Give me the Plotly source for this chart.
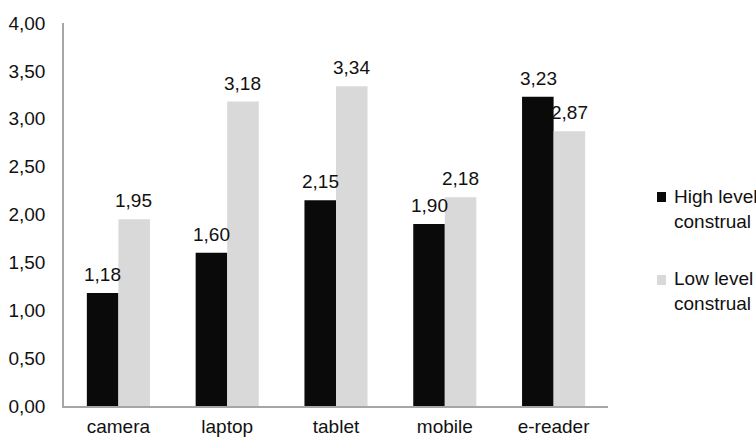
import plotly.graph_objects as go

categories = ["camera", "laptop", "tablet", "mobile", "e-reader"]
high_level = [1.18, 1.60, 2.15, 1.90, 3.23]
low_level = [1.95, 3.18, 3.34, 2.18, 2.87]
series_names = ["High level<br>construal", "Low level<br>construal"]
colors = ["#0a0a0a", "#d9d9d9"]
tick_vals = [0, 0.5, 1, 1.5, 2, 2.5, 3, 3.5, 4]

FONT = "Liberation Sans, Arial, sans-serif"
FS = 19
TXT = "#111111"

W, H = 756, 438
ML, MR, MT, MB = 64, 148, 23, 32
PW = W - ML - MR
PH = H - MT - MB


def px_x(px):
    return (px - ML) / PW


def px_y(py):
    return (H - MB - py) / PH


fig = go.Figure()
for name, vals, col in zip(series_names, [high_level, low_level], colors):
    fig.add_trace(go.Bar(
        x=categories, y=vals, name=name,
        marker=dict(color=col, line=dict(width=0)),
        showlegend=False,
    ))

# data labels, positioned through the axes
annotations = []
half = 15.5
for vals, xs in [(high_level, -half), (low_level, half)]:
    for c, v in zip(categories, vals):
        annotations.append(dict(
            x=c, y=v, xref="x", yref="y", text=f"{v:.2f}".replace(".", ","),
            showarrow=False, xanchor="center", yanchor="bottom",
            xshift=xs, yshift=6,
            font=dict(size=FS, family=FONT, color=TXT),
        ))

# manual legend
legend_rows = [(197, 208.5), (280, 291)]
shapes = []
for (marker_y, text_y), name, col in zip(legend_rows, series_names, colors):
    shapes.append(dict(
        type="rect", xref="paper", yref="paper",
        x0=px_x(657), x1=px_x(666), y0=px_y(marker_y + 5), y1=px_y(marker_y - 5),
        fillcolor=col, line=dict(width=0),
    ))
    annotations.append(dict(
        x=px_x(672), y=px_y(text_y), xref="paper", yref="paper",
        text=name, showarrow=False, xanchor="left", yanchor="middle",
        align="left", font=dict(size=FS, family=FONT, color=TXT),
    ))

fig.update_layout(
    width=W, height=H,
    margin=dict(l=ML, r=MR, t=MT, b=MB, autoexpand=False),
    paper_bgcolor="white", plot_bgcolor="white",
    separators=", ",
    barmode="group", bargap=0.42, bargroupgap=0,
    font=dict(family=FONT, size=FS, color=TXT),
    showlegend=False,
    annotations=annotations,
    shapes=shapes,
)
fig.update_yaxes(
    range=[0, 4], tickvals=tick_vals, tickformat=".2f",
    showgrid=False, zeroline=False, automargin=False,
    showline=True, linecolor="#a6a6a6", linewidth=1.5,
    ticks="", ticklabelstandoff=13,
    tickfont=dict(size=FS, family=FONT, color=TXT),
)
fig.update_xaxes(
    showgrid=False, showline=True, linecolor="#a6a6a6", linewidth=1.5,
    ticks="", ticklabelstandoff=2, automargin=False,
    tickfont=dict(size=FS, family=FONT, color=TXT),
)

fig.write_html("out.html")
